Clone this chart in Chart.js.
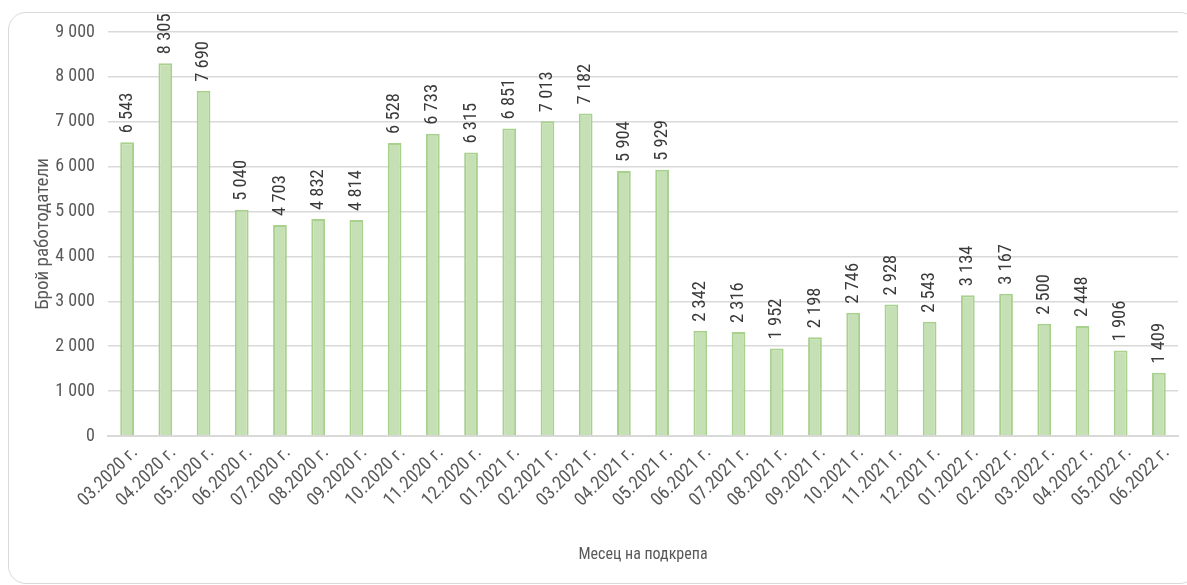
<!DOCTYPE html>
<html>
<head>
<meta charset="utf-8">
<script src="https://cdn.jsdelivr.net/npm/chart.js@4"></script>
<style>
    html, body { margin: 0; padding: 0; background: #fff; }
    #wrap { position: relative; width: 1187px; height: 585px; overflow: hidden; }
    #frame {
        position: absolute; left: 8px; top: 12px; width: 1190px; height: 572px;
        border: 1px solid #d9d9d9; border-radius: 18px; box-sizing: border-box;
    }
    #chart { position: absolute; left: 0; top: 0; }
</style>
</head>
<body>
<div id="wrap">
    <div id="frame"></div>
    <canvas id="chart" width="1187" height="585"></canvas>
</div>
<script>
const months = [
    '03.2020 г.', '04.2020 г.', '05.2020 г.', '06.2020 г.', '07.2020 г.', '08.2020 г.', '09.2020 г.',
    '10.2020 г.', '11.2020 г.', '12.2020 г.', '01.2021 г.', '02.2021 г.', '03.2021 г.', '04.2021 г.',
    '05.2021 г.', '06.2021 г.', '07.2021 г.', '08.2021 г.', '09.2021 г.', '10.2021 г.', '11.2021 г.',
    '12.2021 г.', '01.2022 г.', '02.2022 г.', '03.2022 г.', '04.2022 г.', '05.2022 г.', '06.2022 г.'
];
const employers = [
    6543, 8305, 7690, 5040, 4703, 4832, 4814,
    6528, 6733, 6315, 6851, 7013, 7182, 5904,
    5929, 2342, 2316, 1952, 2198, 2746, 2928,
    2543, 3134, 3167, 2500, 2448, 1906, 1409
];
const yTicks = [0, 1000, 2000, 3000, 4000, 5000, 6000, 7000, 8000, 9000];

const FONT = "'Liberation Sans Narrow', 'Roboto Condensed', 'DejaVu Sans Condensed', sans-serif";

// number with space as thousands separator, like "8 305"
function fmt(v) {
    return String(v).replace(/\B(?=(\d{3})+(?!\d))/g, ' ');
}

// draw the value labels rotated, just above each bar
const valueLabels = {
    id: 'valueLabels',
    afterDatasetsDraw(chart) {
        const ctx = chart.ctx;
        const meta = chart.getDatasetMeta(0);
        ctx.save();
        ctx.font = '18.5px ' + FONT;
        ctx.fillStyle = '#3a3a3a';
        ctx.textAlign = 'left';
        ctx.textBaseline = 'middle';
        meta.data.forEach((bar, i) => {
            ctx.save();
            ctx.translate(bar.x, bar.y - 9);
            ctx.rotate(-Math.PI / 2);
            ctx.fillText(fmt(employers[i]), 0, 0);
            ctx.restore();
        });
        ctx.restore();
    }
};

new Chart(document.getElementById('chart').getContext('2d'), {
    type: 'bar',
    data: {
        labels: months,
        datasets: [{
            data: employers,
            backgroundColor: '#c5e0b4',
            borderColor: '#a9d18e',
            borderWidth: 2,
            categoryPercentage: 1,
            barPercentage: 0.36
        }]
    },
    options: {
        responsive: false,
        animation: false,
        layout: { padding: { left: 22, right: 9, top: 32, bottom: 16 } },
        plugins: {
            legend: { display: false },
            tooltip: { enabled: false }
        },
        scales: {
            x: {
                grid: { display: false, drawTicks: false },
                border: { color: '#d9d9d9', width: 2 },
                ticks: {
                    color: '#595959',
                    font: { family: FONT, size: 18.5 },
                    minRotation: 45,
                    maxRotation: 45,
                    padding: 6,
                    labelOffset: 8,
                    autoSkip: false
                },
                title: {
                    display: true,
                    text: 'Месец на подкрепа',
                    color: '#595959',
                    font: { family: FONT, size: 16 },
                    padding: 4
                },
                afterFit(scale) { scale.height = 585 - 436 - 16; }
            },
            y: {
                min: 0,
                max: 9000,
                afterBuildTicks(scale) { scale.ticks = yTicks.map(v => ({ value: v })); },
                grid: { color: '#d9d9d9', lineWidth: 1.5, drawTicks: false },
                border: { display: false },
                ticks: {
                    color: '#595959',
                    font: { family: FONT, size: 18 },
                    padding: 13,
                    callback: v => fmt(v)
                },
                title: {
                    display: true,
                    text: 'Брой работодатели',
                    color: '#595959',
                    font: { family: FONT, size: 19 },
                    padding: { top: 10, bottom: 0 }
                },
                afterFit(scale) { scale.width = 108 - 22; }
            }
        }
    },
    plugins: [valueLabels]
});
</script>
</body>
</html>
